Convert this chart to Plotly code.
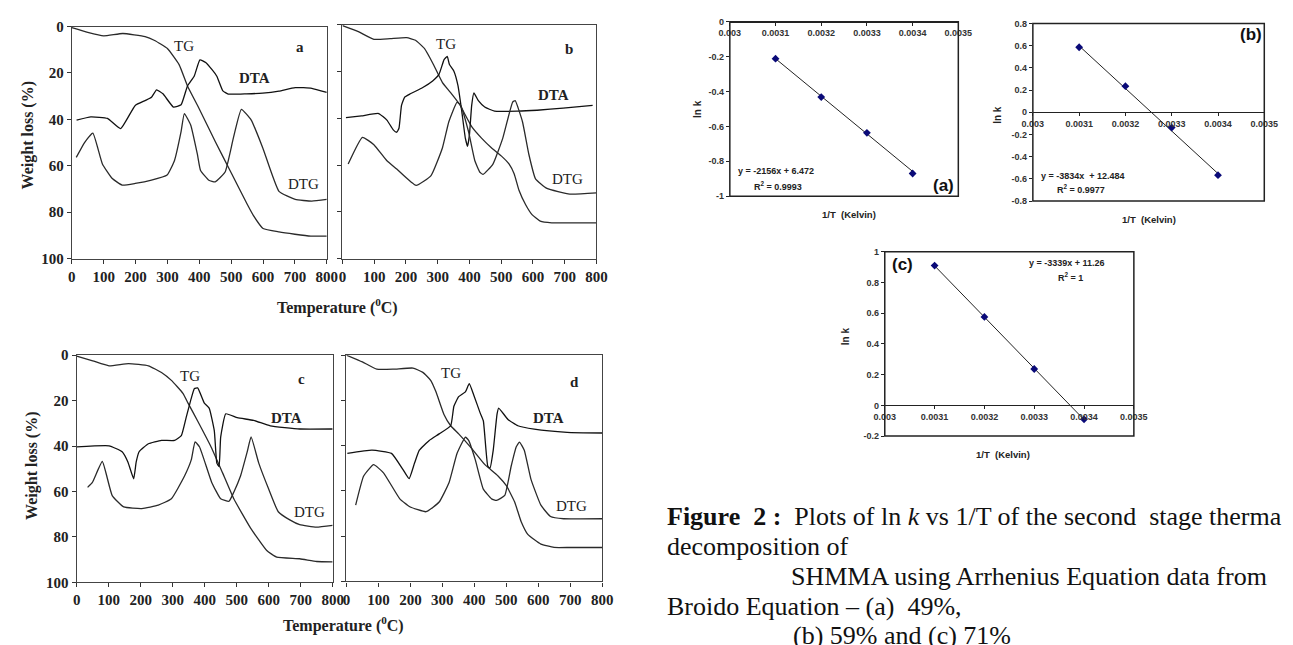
import plotly.graph_objects as go

W, H = 1293, 645

# ---------------- Left panels: TG / DTA / DTG (weight loss %, 0 at top) ----------------
T_a_tg = [0, 50, 100, 160, 230, 260, 300, 337, 363, 400, 450, 500, 550, 570, 600, 650, 700, 750, 800]
TG_a = [0.5, 2.5, 4, 3, 4.3, 6, 9.5, 16.5, 25.6, 35.5, 49.5, 63, 76.5, 81.5, 87, 88.5, 89.5, 90.3, 90.3]
T_a_dta = [15, 60, 112, 153, 199, 230, 250, 266, 286, 319, 343, 363, 384, 402, 420, 440, 455, 474, 491, 548, 599, 650, 701, 753, 800]
DTA_a = [40.3, 38.9, 39.6, 44, 34, 31.9, 30.5, 27.3, 29, 34.7, 33.7, 25.6, 21.4, 14.4, 15.5, 18.6, 21.4, 27.7, 29.1, 29, 28.7, 27.8, 26.3, 26.6, 28.4]
T_a_dtg = [14, 40, 66, 96, 127, 158, 199, 250, 299, 322, 343, 353, 373, 394, 404, 430, 450, 481, 507, 532, 563, 599, 650, 701, 753, 800]
DTG_a = [56.4, 50, 45.9, 59.2, 65.5, 68.3, 67.6, 66.2, 64, 57.8, 45.2, 37.5, 42.4, 55, 62, 66.2, 66.9, 62.7, 48, 35.7, 40.3, 52.2, 71, 74.5, 75.2, 74.5]

T_b_tg = [0, 50, 99, 150, 202, 230, 258, 284, 315, 340, 371, 387, 407, 438, 469, 500, 525, 541, 556, 577, 597, 623, 659, 700, 800]
TG_b = [0.4, 3, 6.3, 6, 5.6, 6.7, 10.2, 16.4, 24.8, 29, 34.5, 38.7, 43.6, 48.5, 52.6, 56.1, 59.6, 63.8, 70.8, 77, 81.2, 84, 84.7, 84.7, 84.7]
T_b_dta = [11, 60, 114, 140, 160, 171, 178, 186, 196, 212, 253, 284, 304, 320, 330, 337, 351, 364, 376, 387, 394, 400, 407, 414, 428, 448, 479, 551, 613, 695, 788]
DTA_b = [39.8, 39, 38, 40.8, 45, 46, 44.3, 34.5, 31, 29.7, 26.9, 24.1, 21.3, 15, 13.6, 17.1, 19.9, 26.2, 37.3, 48.5, 52, 47, 34.5, 29.2, 32.5, 35.2, 37, 37, 36.6, 35.7, 34.5]
T_b_dtg = [18, 63, 99, 140, 171, 232, 279, 315, 335, 361, 372, 397, 417, 433, 443, 474, 505, 536, 544, 567, 587, 608, 644, 716, 800]
DTG_b = [59.6, 48.2, 51.3, 58.2, 61.7, 68.7, 64.5, 52.6, 41.5, 33.1, 34.5, 45.7, 58.2, 63.1, 64, 59.6, 48.5, 33.1, 32.5, 41.5, 55.4, 65.9, 70, 72.4, 71.9]

T_c_tg = [0, 50, 101, 162, 224, 265, 296, 332, 348, 378, 420, 456, 491, 543, 594, 625, 697, 750, 800]
TG_c = [0.4, 2.5, 4.7, 3.7, 4.7, 7.6, 11.1, 16.8, 21.1, 29, 40.4, 51.8, 63.2, 76, 86, 88.9, 89.6, 90.8, 91]
T_c_dta = [0, 101, 142, 160, 178, 186, 195, 224, 265, 306, 327, 342, 358, 368, 378, 399, 414, 430, 438, 445, 450, 466, 502, 553, 605, 697, 800]
DTA_c = [40.4, 39.9, 42.5, 47, 54.4, 47, 42.5, 39, 37.5, 37.5, 35.4, 27.5, 19, 14.7, 14.4, 21.1, 23.3, 33.2, 47.5, 49, 36.1, 25.8, 27.5, 28.7, 31.1, 32.5, 32.5]
T_c_dtg = [34, 49, 80, 111, 147, 204, 255, 296, 337, 358, 370, 384, 422, 450, 476, 491, 512, 533, 545, 569, 600, 630, 666, 697, 749, 800]
DTG_c = [58.2, 56, 46.8, 61.8, 66.8, 67.5, 66, 63.2, 53.2, 46.1, 38.2, 40.4, 56, 63.2, 64.3, 60.3, 53.2, 42.5, 36, 47.5, 58.9, 68.9, 72.5, 74.6, 75.7, 74.9]

T_d_tg = [0, 50, 95, 147, 208, 239, 264, 280, 305, 326, 351, 392, 433, 474, 500, 526, 546, 567, 608, 649, 700, 800]
TG_d = [0, 3, 6.2, 6.2, 5.7, 7.6, 11.2, 16.2, 26.2, 31.2, 34.8, 41.3, 48.4, 53.4, 57.7, 64.9, 73.5, 79.2, 83.5, 85, 85, 85]
T_d_dta = [3, 80, 141, 177, 196, 213, 228, 259, 290, 326, 336, 351, 372, 384, 398, 418, 428, 442, 449, 459, 471, 476, 505, 536, 587, 690, 800]
DTA_d = [43.4, 42, 43.4, 50.6, 54.6, 47.7, 42, 37.7, 34.8, 31.2, 22.6, 18.3, 16.2, 12.6, 17.6, 25.5, 29, 49.1, 49.9, 42, 26, 23.4, 28.4, 31.2, 32.7, 34.1, 34.4]
T_d_dtg = [29, 54, 85, 116, 167, 198, 249, 290, 321, 346, 372, 382, 403, 428, 454, 469, 495, 515, 531, 541, 556, 577, 608, 638, 679, 800]
DTG_d = [66.3, 53.4, 48.4, 52, 63.5, 67, 69.2, 64.9, 56.3, 43.4, 36.2, 37.7, 46.3, 59.2, 63.5, 64.2, 62, 49.1, 40.5, 38.4, 42, 54.9, 66.3, 71.3, 72.3, 72.3]

temp_ticks = [0, 100, 200, 300, 400, 500, 600, 700, 800]
wl_ticks = [0, 20, 40, 60, 80, 100]

# ---------------- Right panels: ln k vs 1/T ----------------
invT = [0.0031, 0.0032, 0.0033, 0.0034]
lnk_a = [-0.212, -0.432, -0.637, -0.870]
lnk_b = [0.587, 0.236, -0.137, -0.566]
lnk_c = [0.910, 0.576, 0.237, -0.091]
fit_x = [0.0031, 0.0034]
fit_a = [-0.212, -0.858]
fit_b = [0.599, -0.552]
fit_c = [0.909, -0.093]
invT_ticks = [0.003, 0.0031, 0.0032, 0.0033, 0.0034, 0.0035]
invT_labels = ["0.003", "0.0031", "0.0032", "0.0033", "0.0034", "0.0035"]

fig = go.Figure()

SERIF = "Liberation Serif"
SANS = "Liberation Sans"
CURVE = "#2a2a2a"


def xd(p0, p1):
    return [p0 / W, p1 / W]


def yd(top, bot):
    return [1 - bot / H, 1 - top / H]


def pann(px, py, text, font, xanchor="center", angle=0):
    return dict(x=px / W, y=1 - py / H, xref="paper", yref="paper", text=text, showarrow=False,
                xanchor=xanchor, yanchor="middle", textangle=angle, font=font)


left_panels = [
    (1, "a", (62, 322), (19, 257), True, (T_a_tg, TG_a, T_a_dta, DTA_a, T_a_dtg, DTG_a),
     {"TG": (353, 8.5), "L": (717, 9), "DTA": (573, 22), "DTG": (727, 68)}),
    (2, "b", (338, 597), (17, 257), False, (T_b_tg, TG_b, T_b_dta, DTA_b, T_b_dtg, DTG_b),
     {"TG": (325, 8.4), "L": (714, 10.6), "DTA": (666, 30), "DTG": (708, 66)}),
    (3, "c", (67, 328), (356, 589), True, (T_c_tg, TG_c, T_c_dta, DTA_c, T_c_dtg, DTG_c),
     {"TG": (353, 9), "L": (702, 10.7), "DTA": (656, 27.5), "DTG": (728, 69)}),
    (4, "d", (342, 603), (356, 588), False, (T_d_tg, TG_d, T_d_dta, DTA_d, T_d_dtg, DTG_d),
     {"TG": (326, 7.9), "L": (712, 11.9), "DTA": (633, 27.6), "DTG": (705, 66.6)}),
]

annotations = []
layout_axes = {}

for idx, letter, (px0, px1), (py0, py1), showy, data, labs in left_panels:
    xa = "x" if idx == 1 else f"x{idx}"
    ya = "y" if idx == 1 else f"y{idx}"
    tgx, tgy, dtax, dtay, dtgx, dtgy = data
    for xs, ys, col in ((tgx, tgy, CURVE), (dtax, dtay, "#111111"), (dtgx, dtgy, CURVE)):
        fig.add_trace(go.Scatter(x=xs, y=ys, mode="lines", xaxis=xa, yaxis=ya,
                                 line=dict(color=col, width=1.3, shape="spline", smoothing=0.4),
                                 showlegend=False, hoverinfo="skip"))
    kx = "xaxis" if idx == 1 else f"xaxis{idx}"
    ky = "yaxis" if idx == 1 else f"yaxis{idx}"
    layout_axes[kx] = dict(domain=xd(px0, px1), anchor=ya, range=[0, 800], tickvals=temp_ticks,
                           ticks="outside", ticklen=4, tickcolor="#333", showline=True, mirror=True,
                           linecolor="#444", linewidth=1.2, showgrid=False, zeroline=False,
                           tickfont=dict(family=SERIF, size=15, color="#222", weight="bold"))
    layout_axes[ky] = dict(domain=yd(py0, py1), anchor=xa, range=[100, 0], tickvals=wl_ticks,
                           ticks="outside", ticklen=4, tickcolor="#333", showline=True, mirror=True,
                           linecolor="#444", linewidth=1.2, showgrid=False, zeroline=False,
                           showticklabels=showy,
                           tickfont=dict(family=SERIF, size=15, color="#222", weight="bold"))
    for key, txt, bold in (("TG", "TG", False), ("DTA", "DTA", True), ("DTG", "DTG", False), ("L", letter, True)):
        x0, y0 = labs[key]
        annotations.append(dict(x=x0, y=y0, xref=xa, yref=ya, text=txt, showarrow=False,
                                xanchor="center", yanchor="middle",
                                font=dict(family=SERIF, size=15, color="#222",
                                          weight="bold" if bold else "normal")))

lab_font = dict(family=SERIF, size=16, color="#222", weight="bold")
annotations.append(pann(17, 131, "Weight loss (%)", lab_font, angle=-90))
annotations.append(pann(22, 470, "Weight loss (%)", lab_font, angle=-90))
annotations.append(pann(333, 306, "Temperature (<sup>0</sup>C)", lab_font))
annotations.append(pann(339, 632, "Temperature (<sup>0</sup>C)", lab_font))

# ---------------- Right small charts ----------------
right = [
    (5, (733, 966), (14, 193), [-1, 0], [0, -0.2, -0.4, -0.6, -0.8, -1], ["0", "-0.2", "-0.4", "-0.6", "-0.8", "-1"],
     lnk_a, fit_a, "(a)", (951, 182), ["y = -2156x + 6.472", "R<sup>2</sup> = 0.9993"], [(739, 167), (756, 183)],
     (700, 103), (855, 212)),
    (6, (1042, 1278), (16, 198), [-0.8, 0.8], [0.8, 0.6, 0.4, 0.2, 0, -0.2, -0.4, -0.6, -0.8],
     ["0.8", "0.6", "0.4", "0.2", "0", "-0.2", "-0.4", "-0.6", "-0.8"],
     lnk_b, fit_b, "(b)", (1264, 27), ["y = -3834x  + 12.484", "R<sup>2</sup> = 0.9977"], [(1048, 172), (1065, 186)],
     (1006, 110), (1160, 217)),
    (7, (891, 1145), (250, 439), [-0.2, 1], [1, 0.8, 0.6, 0.4, 0.2, 0, -0.2], ["1", "0.8", "0.6", "0.4", "0.2", "0", "-0.2"],
     lnk_c, fit_c, "(c)", (909, 263), ["y = -3339x + 11.26", "R<sup>2</sup> = 1"], [(1036, 261), (1066, 276)],
     (851, 337), (1012, 458)),
]

for idx, (px0, px1), (py0, py1), yr, yt, ytt, pts, fit, lab, labpos, eqs, eqpos, ylpos, xlpos in right:
    xa, ya = f"x{idx}", f"y{idx}"
    fig.add_trace(go.Scatter(x=fit_x, y=fit, mode="lines", xaxis=xa, yaxis=ya,
                             line=dict(color="#222", width=1), showlegend=False, hoverinfo="skip"))
    fig.add_trace(go.Scatter(x=invT, y=pts, mode="markers", xaxis=xa, yaxis=ya,
                             marker=dict(symbol="diamond", size=6, color="#0a0a78"),
                             showlegend=False, hoverinfo="skip"))
    ydom = yd(py0, py1)
    zero_pos = ydom[0] + (0 - yr[0]) / (yr[1] - yr[0]) * (ydom[1] - ydom[0])
    layout_axes[f"xaxis{idx}"] = dict(domain=xd(px0, px1), anchor="free", position=zero_pos, side="bottom",
                                      range=[0.003, 0.0035], tickvals=invT_ticks, ticktext=invT_labels,
                                      ticks="outside", ticklen=3, tickcolor="#222", showline=True,
                                      linecolor="#222", linewidth=1, showgrid=False, zeroline=False,
                                      tickfont=dict(family=SANS, size=9, color="#333", weight="bold"))
    layout_axes[f"yaxis{idx}"] = dict(domain=ydom, anchor=xa, range=yr, tickvals=yt, ticktext=ytt,
                                      ticks="outside", ticklen=3, tickcolor="#222", showline=False,
                                      showgrid=False, zeroline=False,
                                      tickfont=dict(family=SANS, size=9, color="#333", weight="bold"))
    fig.add_shape(type="rect", xref=f"{xa} domain", yref=f"{ya} domain", x0=0, x1=1, y0=0, y1=1,
                  line=dict(color="#222", width=1.5), fillcolor="rgba(0,0,0,0)")
    annotations.append(pann(labpos[0], labpos[1], lab, dict(family=SANS, size=17, color="#111", weight="bold")))
    for t, (ex, ey) in zip(eqs, eqpos):
        annotations.append(pann(ex, ey, t, dict(family=SANS, size=9, color="#222", weight="bold"), xanchor="left"))
    annotations.append(pann(ylpos[0], ylpos[1], "ln k", dict(family=SANS, size=10, color="#222", weight="bold"),
                            angle=-90))
    annotations.append(pann(xlpos[0], xlpos[1], "1/T  (Kelvin)",
                            dict(family=SANS, size=9.5, color="#222", weight="bold")))

# ---------------- Caption ----------------
caption = [
    (667, 521, "<b>Figure&nbsp; 2 :</b>&nbsp; Plots of ln <i>k</i> vs 1/T of the second&nbsp; stage therma"),
    (667, 552, "decomposition of"),
    (793, 583, "SHMMA using Arrhenius Equation data from"),
    (667, 614, "Broido Equation – (a)&nbsp; 49%,"),
    (795, 643, "(b) 59% and (c) 71%"),
]
cap_font = dict(family=SERIF, size=26, color="#111")
for cx, cy, txt in caption:
    annotations.append(pann(cx, cy, txt, cap_font, xanchor="left"))

fig.update_layout(width=W, height=H, autosize=False, margin=dict(l=0, r=0, t=0, b=0),
                  paper_bgcolor="white", plot_bgcolor="white", showlegend=False,
                  annotations=annotations, **layout_axes)

fig.write_html("out.html")
